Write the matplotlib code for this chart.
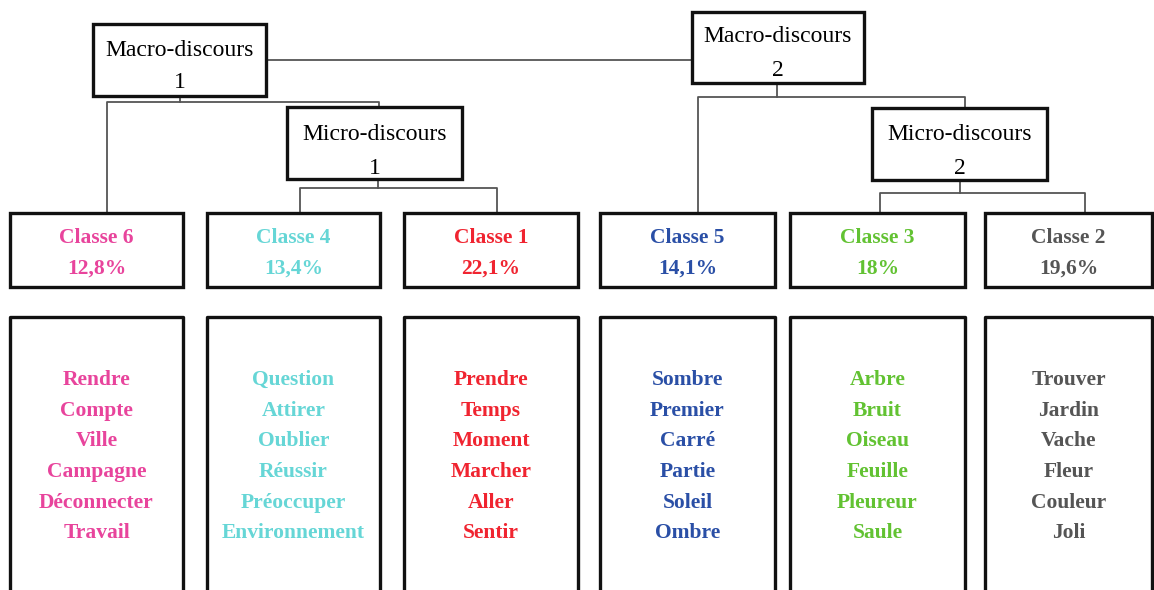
import matplotlib.pyplot as plt
from matplotlib.patches import Rectangle

# class data, left to right as shown
classes = ["Classe 6", "Classe 4", "Classe 1", "Classe 5", "Classe 3", "Classe 2"]
shares = ["12,8%", "13,4%", "22,1%", "14,1%", "18%", "19,6%"]
colors = ["#e8449c", "#66d6d6", "#f02430", "#2a4fa6", "#62c232", "#555555"]
words = [
    ["Rendre", "Compte", "Ville", "Campagne", "Déconnecter", "Travail"],
    ["Question", "Attirer", "Oublier", "Réussir", "Préoccuper", "Environnement"],
    ["Prendre", "Temps", "Moment", "Marcher", "Aller", "Sentir"],
    ["Sombre", "Premier", "Carré", "Partie", "Soleil", "Ombre"],
    ["Arbre", "Bruit", "Oiseau", "Feuille", "Pleureur", "Saule"],
    ["Trouver", "Jardin", "Vache", "Fleur", "Couleur", "Joli"],
]
macro_labels = [("Macro-discours", "1"), ("Macro-discours", "2")]
micro_labels = [("Micro-discours", "1"), ("Micro-discours", "2")]

FONT = "Liberation Serif"
EDGE = "#111111"
LINE = "#555555"

fig = plt.figure(figsize=(11.54, 5.90), dpi=100)
ax = fig.add_axes([0, 0, 1, 1])
ax.set_xlim(0, 1154)
ax.set_ylim(590, 0)
ax.axis("off")


def box(x0, y0, x1, y1, lw=2.4):
    ax.add_patch(Rectangle((x0, y0), x1 - x0, y1 - y0, fill=False,
                           edgecolor=EDGE, linewidth=lw, zorder=3))


def conn(pts):
    xs, ys = zip(*pts)
    ax.plot(xs, ys, color=LINE, linewidth=1.3, zorder=2)


def two_lines(cx, y_top, y_bot, lab):
    ax.text(cx, y_top, lab[0], ha="center", va="center", family=FONT,
            fontsize=17, zorder=4)
    ax.text(cx, y_bot, lab[1], ha="center", va="center", family=FONT,
            fontsize=17, zorder=4)


# header boxes
macro_boxes = [(93, 24, 266, 96), (692, 12, 864, 83)]
macro_text_y = [(50, 83), (37, 71)]
micro_boxes = [(287, 107, 462, 179), (872, 108, 1047, 180)]
for (x0, y0, x1, y1), lab, (ya, yb) in zip(macro_boxes, macro_labels, macro_text_y):
    box(x0, y0, x1, y1)
    two_lines((x0 + x1) / 2, ya, yb, lab)
for (x0, y0, x1, y1), lab in zip(micro_boxes, micro_labels):
    box(x0, y0, x1, y1)
    two_lines((x0 + x1) / 2, 134, 168, lab)

# connectors
conn([(266, 60), (692, 60)])
conn([(180, 96), (180, 102)])
conn([(107, 213), (107, 102), (379, 102), (379, 107)])
conn([(378, 179), (378, 188)])
conn([(300, 213), (300, 188), (497, 188), (497, 213)])
conn([(777, 83), (777, 97)])
conn([(698, 213), (698, 97), (965, 97), (965, 108)])
conn([(960, 180), (960, 193)])
conn([(880, 213), (880, 193), (1085, 193), (1085, 213)])

# class boxes and word lists
col_x = [(10, 183), (207, 380), (404, 578), (600, 775), (790, 965), (985, 1152)]
for i, (x0, x1) in enumerate(col_x):
    cx = (x0 + x1) / 2
    box(x0, 213, x1, 287)
    ax.text(cx, 238, classes[i], ha="center", va="center", family=FONT,
            fontweight="bold", fontsize=15.5, color=colors[i], zorder=4)
    ax.text(cx, 269, shares[i], ha="center", va="center", family=FONT,
            fontweight="bold", fontsize=15.5, color=colors[i], zorder=4)
    # word box, open at the bottom edge of the picture
    ax.plot([x0, x0, x1, x1], [600, 317, 317, 600], color=EDGE,
            linewidth=2.4, zorder=3)
    for j, w in enumerate(words[i]):
        ax.text(cx, 380 + j * 30.7, w, ha="center", va="center", family=FONT,
                fontweight="bold", fontsize=15.5, color=colors[i], zorder=4)

fig.savefig("out.png", dpi=100)
